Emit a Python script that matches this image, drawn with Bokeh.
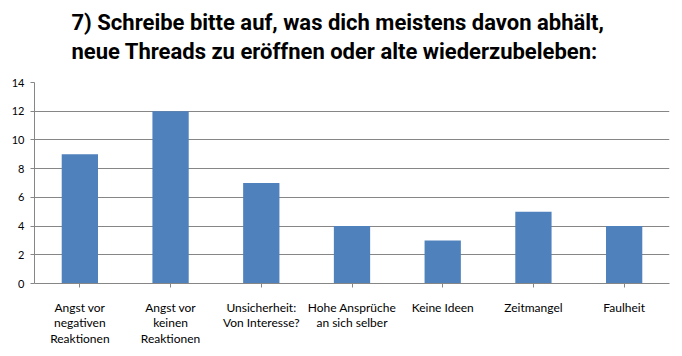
from bokeh.plotting import figure
from bokeh.models import FactorRange, Range1d, Title, FixedTicker
from bokeh.embed import file_html
from bokeh.resources import INLINE

categories = [
    "Angst vor\nnegativen\nReaktionen",
    "Angst vor\nkeinen\nReaktionen",
    "Unsicherheit:\nVon Interesse?",
    "Hohe Ansprüche\nan sich selber",
    "Keine Ideen",
    "Zeitmangel",
    "Faulheit",
]
values = [9, 12, 7, 4, 3, 5, 4]
y_ticks = [0, 2, 4, 6, 8, 10, 12, 14]
title_lines = [
    "7) Schreibe bitte auf, was dich meistens davon abhält,",
    "neue Threads zu eröffnen oder alte wiederzubeleben:",
]

GRID = "#868686"
BAR = "#4F81BD"

p = figure(
    width=682, height=356,
    x_range=FactorRange(*categories, range_padding=0),
    y_range=Range1d(0, 14),
    output_backend="svg", toolbar_location=None,
    min_border_left=34, min_border_right=13,
    min_border_top=82, min_border_bottom=73,
)
p.title = None
p.outline_line_color = None
p.background_fill_color = "white"
p.border_fill_color = "white"

p.vbar(x=categories, top=values, width=0.4, fill_color=BAR, line_color=None)

p.xgrid.grid_line_color = None
p.ygrid.grid_line_color = GRID
p.ygrid.grid_line_width = 1
p.yaxis.ticker = FixedTicker(ticks=y_ticks)

for ax in (p.xaxis, p.yaxis):
    ax.axis_line_color = GRID
    ax.major_tick_line_color = GRID
    ax.minor_tick_line_color = None
    ax.major_tick_in = 0
    ax.major_tick_out = 4
    ax.major_label_text_color = "black"
    ax.major_label_text_font = "Lato"
    ax.major_label_text_font_size = "11px"

p.xaxis.major_label_text_font_size = "12px"
p.xaxis.major_label_text_line_height = 1.05
p.xaxis.major_label_standoff = 12
p.yaxis.major_label_standoff = 6

for txt, st in zip(reversed(title_lines), [37, -33]):
    p.add_layout(Title(
        text=txt, align="left", standoff=st, offset=37,
        text_font="Roboto", text_font_style="bold",
        text_font_size="22px", text_color="black",
    ), "above")

open("out.html", "w").write(file_html(p, INLINE))
